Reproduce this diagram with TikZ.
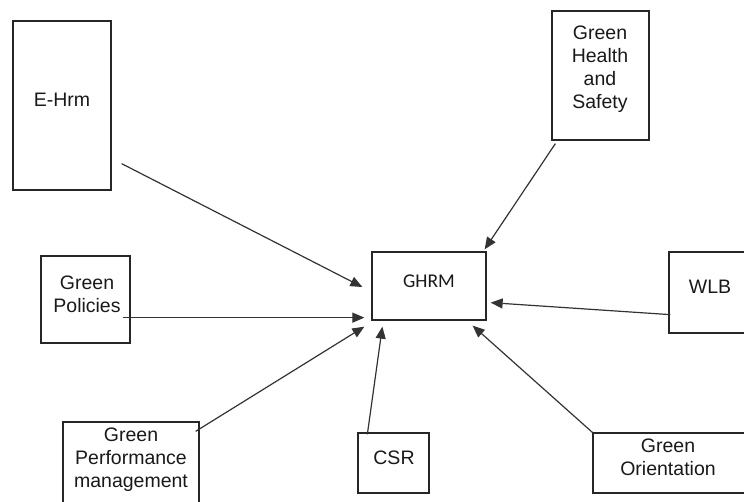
\documentclass[tikz,border=0pt]{standalone}
\usepackage{fontspec}
\setmainfont{Liberation Sans}
\newfontfamily\calfont{Carlito}
\usetikzlibrary{arrows.meta,calc}
\tikzset{
  box/.style={draw=black!85, line width=1.3pt, fill=none, inner sep=0pt},
  lbl/.style={align=center, inner sep=0pt, font=\fontsize{19.5}{23}\selectfont, text=black!90},
  arr/.style={draw=black!80, line width=1.2pt, -{Triangle[length=12pt,width=10pt]}}
}
\begin{document}
\begin{tikzpicture}[x=1pt,y=-1pt]
\useasboundingbox (0,0) rectangle (744,502);
% boxes
\node[box, minimum width=98pt, minimum height=169pt] (ehrm) at (62,105.5) {};
\node[lbl] (ehrmT) at (62,100) {E-Hrm};

\node[box, minimum width=97pt, minimum height=129pt] (ghs) at (600.5,75.5) {};
\node[lbl] (ghsT) at (600,69.5) {Green\\Health\\and\\Safety};

\node[box, minimum width=114pt, minimum height=68pt] (ghrm) at (429,286) {};
\node[lbl, font=\calfont\fontsize{19.5}{23}\selectfont] (ghrmT) at (429,281) {GHRM};

\node[box, minimum width=89pt, minimum height=87pt] (gp) at (85.5,299.5) {};
\node[lbl] (gpT) at (87,294.5) {Green\\Policies};

\node[box, minimum width=79pt, minimum height=81pt] (wlb) at (708.5,292.5) {};
\node[lbl] (wlbT) at (710,287) {WLB};

\node[box, minimum width=136pt, minimum height=90pt] (gpm) at (131,467) {};
\node[lbl] (gpmT) at (131,459.5) {Green\\Performance\\management};

\node[box, minimum width=71pt, minimum height=60pt] (csr) at (393.5,463) {};
\node[lbl] (csrT) at (394,458) {CSR};

\node[box, minimum width=155pt, minimum height=60pt] (go) at (670.5,463) {};
\node[lbl] (goT) at (668,457) {Green\\Orientation};

% connectors
\draw[arr] ([shift={(10,-27)}]ehrm.south east) -- ([shift={(-9,1)}]ghrm.west);
\draw[arr] ([shift={(4,3)}]ghs.south west) -- ([shift={(-2,-2)}]ghrm.north east);
\draw[arr] ([shift={(-8,-26)}]gp.south east) -- ([shift={(-7,-3)}]ghrm.south west);
\draw[arr] ([shift={(2,-19)}]wlb.south west) -- ([shift={(4,-18)}]ghrm.south east);
\draw[arr] ([shift={(-4,10)}]gpm.north east) -- ([shift={(-7,6)}]ghrm.south west);
\draw[arr] ([shift={(10,2)}]csr.north west) -- ([shift={(11,6)}]ghrm.south west);
\draw[arr] (go.north west) -- ([shift={(-14,5)}]ghrm.south east);
\end{tikzpicture}
\end{document}
